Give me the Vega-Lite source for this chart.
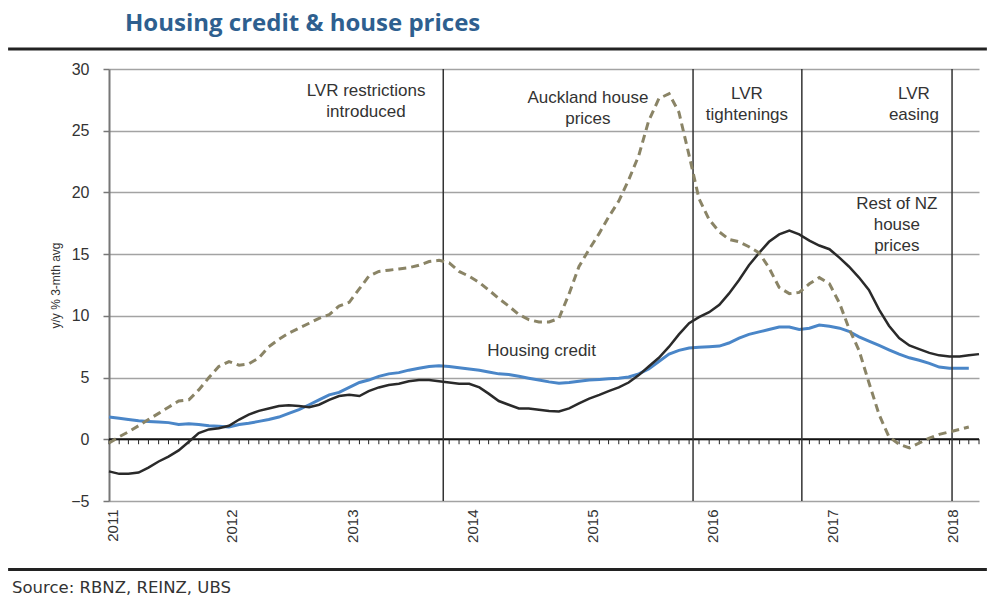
{
 "$schema": "https://vega.github.io/schema/vega-lite/v6.json",
 "width": 870, "height": 432,
 "autosize": {"type": "none"},
 "padding": {"left": 109, "top": 69, "right": 8, "bottom": 100},
 "background": "white",
 "config": {"view": {"stroke": null}, "font": "Liberation Sans"},
 "title": {"text": "Housing credit & house prices", "anchor": "start", "frame": "group", "dx": 16, "offset": 12, "font": "Open Sans", "fontSize": 24, "fontWeight": "bold", "color": "#2e5f8f"},
 "datasets": {
  "series": [
   {"d":"2011-01-01","credit":1.8,"rest":-2.6,"akl":-0.3},
   {"d":"2011-02-01","credit":1.7,"rest":-2.8,"akl":0.2},
   {"d":"2011-03-01","credit":1.6,"rest":-2.8,"akl":0.6},
   {"d":"2011-04-01","credit":1.5,"rest":-2.7,"akl":1.1},
   {"d":"2011-05-01","credit":1.45,"rest":-2.3,"akl":1.6},
   {"d":"2011-06-01","credit":1.4,"rest":-1.8,"akl":2.1},
   {"d":"2011-07-01","credit":1.35,"rest":-1.4,"akl":2.6},
   {"d":"2011-08-01","credit":1.2,"rest":-0.9,"akl":3.1},
   {"d":"2011-09-01","credit":1.25,"rest":-0.2,"akl":3.2},
   {"d":"2011-10-01","credit":1.2,"rest":0.5,"akl":4.0},
   {"d":"2011-11-01","credit":1.1,"rest":0.8,"akl":5.0},
   {"d":"2011-12-01","credit":1.05,"rest":0.9,"akl":5.9},
   {"d":"2012-01-01","credit":1.0,"rest":1.1,"akl":6.3},
   {"d":"2012-02-01","credit":1.2,"rest":1.6,"akl":6.0},
   {"d":"2012-03-01","credit":1.3,"rest":2.0,"akl":6.1},
   {"d":"2012-04-01","credit":1.45,"rest":2.3,"akl":6.6},
   {"d":"2012-05-01","credit":1.6,"rest":2.5,"akl":7.5},
   {"d":"2012-06-01","credit":1.8,"rest":2.7,"akl":8.1},
   {"d":"2012-07-01","credit":2.1,"rest":2.75,"akl":8.6},
   {"d":"2012-08-01","credit":2.4,"rest":2.7,"akl":9.0},
   {"d":"2012-09-01","credit":2.8,"rest":2.6,"akl":9.4},
   {"d":"2012-10-01","credit":3.2,"rest":2.8,"akl":9.8},
   {"d":"2012-11-01","credit":3.6,"rest":3.2,"akl":10.1},
   {"d":"2012-12-01","credit":3.8,"rest":3.5,"akl":10.8},
   {"d":"2013-01-01","credit":4.2,"rest":3.6,"akl":11.1},
   {"d":"2013-02-01","credit":4.6,"rest":3.5,"akl":12.2},
   {"d":"2013-03-01","credit":4.8,"rest":3.9,"akl":13.2},
   {"d":"2013-04-01","credit":5.1,"rest":4.2,"akl":13.6},
   {"d":"2013-05-01","credit":5.3,"rest":4.4,"akl":13.7},
   {"d":"2013-06-01","credit":5.4,"rest":4.5,"akl":13.8},
   {"d":"2013-07-01","credit":5.6,"rest":4.7,"akl":13.9},
   {"d":"2013-08-01","credit":5.75,"rest":4.8,"akl":14.1},
   {"d":"2013-09-01","credit":5.9,"rest":4.8,"akl":14.4},
   {"d":"2013-10-01","credit":5.95,"rest":4.7,"akl":14.5},
   {"d":"2013-11-01","credit":5.9,"rest":4.6,"akl":14.3},
   {"d":"2013-12-01","credit":5.8,"rest":4.5,"akl":13.6},
   {"d":"2014-01-01","credit":5.7,"rest":4.5,"akl":13.2},
   {"d":"2014-02-01","credit":5.6,"rest":4.2,"akl":12.7},
   {"d":"2014-03-01","credit":5.45,"rest":3.7,"akl":12.1},
   {"d":"2014-04-01","credit":5.3,"rest":3.1,"akl":11.4},
   {"d":"2014-05-01","credit":5.25,"rest":2.8,"akl":10.8},
   {"d":"2014-06-01","credit":5.1,"rest":2.5,"akl":10.1},
   {"d":"2014-07-01","credit":4.95,"rest":2.5,"akl":9.7},
   {"d":"2014-08-01","credit":4.8,"rest":2.4,"akl":9.5},
   {"d":"2014-09-01","credit":4.65,"rest":2.3,"akl":9.5},
   {"d":"2014-10-01","credit":4.55,"rest":2.25,"akl":9.8},
   {"d":"2014-11-01","credit":4.6,"rest":2.5,"akl":11.8},
   {"d":"2014-12-01","credit":4.7,"rest":2.9,"akl":14.0},
   {"d":"2015-01-01","credit":4.8,"rest":3.3,"akl":15.4},
   {"d":"2015-02-01","credit":4.85,"rest":3.6,"akl":16.7},
   {"d":"2015-03-01","credit":4.9,"rest":3.9,"akl":18.0},
   {"d":"2015-04-01","credit":4.95,"rest":4.2,"akl":19.3},
   {"d":"2015-05-01","credit":5.05,"rest":4.6,"akl":21.0},
   {"d":"2015-06-01","credit":5.3,"rest":5.2,"akl":23.0},
   {"d":"2015-07-01","credit":5.7,"rest":5.9,"akl":25.8},
   {"d":"2015-08-01","credit":6.3,"rest":6.6,"akl":27.6},
   {"d":"2015-09-01","credit":6.9,"rest":7.5,"akl":28.0},
   {"d":"2015-10-01","credit":7.2,"rest":8.5,"akl":26.5},
   {"d":"2015-11-01","credit":7.4,"rest":9.4,"akl":23.0},
   {"d":"2015-12-01","credit":7.45,"rest":9.9,"akl":19.5},
   {"d":"2016-01-01","credit":7.5,"rest":10.3,"akl":17.8},
   {"d":"2016-02-01","credit":7.55,"rest":10.9,"akl":16.8},
   {"d":"2016-03-01","credit":7.8,"rest":11.8,"akl":16.2},
   {"d":"2016-04-01","credit":8.2,"rest":12.9,"akl":16.0},
   {"d":"2016-05-01","credit":8.5,"rest":14.1,"akl":15.6},
   {"d":"2016-06-01","credit":8.7,"rest":15.1,"akl":15.1},
   {"d":"2016-07-01","credit":8.9,"rest":16.0,"akl":13.9},
   {"d":"2016-08-01","credit":9.1,"rest":16.6,"akl":12.3},
   {"d":"2016-09-01","credit":9.1,"rest":16.9,"akl":11.8},
   {"d":"2016-10-01","credit":8.9,"rest":16.6,"akl":11.9},
   {"d":"2016-11-01","credit":9.0,"rest":16.1,"akl":12.6},
   {"d":"2016-12-01","credit":9.25,"rest":15.7,"akl":13.1},
   {"d":"2017-01-01","credit":9.15,"rest":15.4,"akl":12.6},
   {"d":"2017-02-01","credit":9.0,"rest":14.7,"akl":11.0},
   {"d":"2017-03-01","credit":8.75,"rest":14.0,"akl":9.0},
   {"d":"2017-04-01","credit":8.3,"rest":13.1,"akl":7.2},
   {"d":"2017-05-01","credit":7.95,"rest":12.1,"akl":4.6},
   {"d":"2017-06-01","credit":7.6,"rest":10.5,"akl":2.0},
   {"d":"2017-07-01","credit":7.25,"rest":9.2,"akl":0.2},
   {"d":"2017-08-01","credit":6.9,"rest":8.2,"akl":-0.4},
   {"d":"2017-09-01","credit":6.6,"rest":7.6,"akl":-0.7},
   {"d":"2017-10-01","credit":6.4,"rest":7.3,"akl":-0.3},
   {"d":"2017-11-01","credit":6.15,"rest":7.0,"akl":0.1},
   {"d":"2017-12-01","credit":5.85,"rest":6.8,"akl":0.4},
   {"d":"2018-01-01","credit":5.75,"rest":6.7,"akl":0.6},
   {"d":"2018-02-01","credit":5.75,"rest":6.7,"akl":0.8},
   {"d":"2018-03-01","credit":5.75,"rest":6.8,"akl":1.0},
   {"d":"2018-04-01","credit":null,"rest":6.9,"akl":null}
  ],
  "events": [
   {"d":"2013-10-14","event":"LVR restrictions introduced"},
   {"d":"2015-11-13","event":"LVR tightening"},
   {"d":"2016-10-09","event":"LVR tightening"},
   {"d":"2018-01-09","event":"LVR easing"}
  ],
  "notes": [
   {"d":"2013-02-21","v":27.81,"label":"LVR restrictions\nintroduced"},
   {"d":"2014-12-28","v":27.25,"label":"Auckland house\nprices"},
   {"d":"2016-04-25","v":27.57,"label":"LVR\ntightenings"},
   {"d":"2017-09-15","v":27.57,"label":"LVR\neasing"},
   {"d":"2017-07-25","v":18.66,"label":"Rest of NZ\nhouse\nprices"},
   {"d":"2014-08-09","v":6.75,"label":"Housing credit"}
  ],
  "blank": [{}]
 },
 "layer": [
  {"data": {"name": "series"},
   "mark": {"type": "line", "color": "#4a86c8", "strokeWidth": 3},
   "encoding": {
    "x": {"field": "d", "type": "temporal",
     "scale": {"type": "utc", "domain": [{"year":2011,"month":1,"date":1,"utc":true},{"year":2018,"month":4,"date":1,"utc":true}]},
     "axis": {"values": [
       {"year":2011,"month":1,"date":1,"utc":true},{"year":2012,"month":1,"date":1,"utc":true},
       {"year":2013,"month":1,"date":1,"utc":true},{"year":2014,"month":1,"date":1,"utc":true},
       {"year":2015,"month":1,"date":1,"utc":true},{"year":2016,"month":1,"date":1,"utc":true},
       {"year":2017,"month":1,"date":1,"utc":true},{"year":2018,"month":1,"date":1,"utc":true}],
      "format": "%Y", "labelAngle": 270, "labelFontSize": 15, "labelColor": "#333", "labelFont": "Liberation Sans",
      "labelOffset": 3, "domain": false, "ticks": false, "grid": false, "labelPadding": 8, "title": null}},
    "y": {"field": "credit", "type": "quantitative",
     "scale": {"domain": [-5, 30], "nice": false, "zero": false},
     "axis": {"values": [-5,0,5,10,15,20,25,30], "grid": true, "gridColor": "#a3a3a3", "gridWidth": 1.5,
      "domain": true, "domainColor": "#777", "domainWidth": 2, "ticks": true, "tickColor": "#777", "tickSize": 6, "tickWidth": 1.5,
      "labelFontSize": 16, "labelColor": "#333", "labelFont": "Liberation Sans", "labelPadding": 14,
      "title": "y/y % 3-mth avg", "titleFontSize": 12, "titleFontWeight": "normal", "titleColor": "#333", "titleFont": "Liberation Sans", "titlePadding": 8}}}
  },
  {"data": {"name": "blank"},
   "mark": {"type": "rule", "color": "#111", "strokeWidth": 2},
   "encoding": {"y": {"datum": 0, "type": "quantitative"}}},
  {"data": {"name": "series"},
   "mark": {"type": "rule", "color": "#222", "strokeWidth": 1},
   "encoding": {"x": {"field": "d", "type": "temporal"}, "y": {"datum": 0, "type": "quantitative"}, "y2": {"datum": -0.4}}},
  {"data": {"name": "events"},
   "mark": {"type": "rule", "color": "#333", "strokeWidth": 1.5},
   "encoding": {"x": {"field": "d", "type": "temporal"}}},
  {"data": {"name": "series"},
   "mark": {"type": "line", "color": "#2a2a2a", "strokeWidth": 2.5},
   "encoding": {"x": {"field": "d", "type": "temporal"}, "y": {"field": "rest", "type": "quantitative"}}},
  {"data": {"name": "series"},
   "mark": {"type": "line", "color": "#8a8466", "strokeWidth": 3, "strokeDash": [8, 5]},
   "encoding": {"x": {"field": "d", "type": "temporal"}, "y": {"field": "akl", "type": "quantitative"}}},
  {"data": {"name": "notes"},
   "mark": {"type": "text", "fontSize": 17, "color": "#333", "font": "Liberation Sans", "align": "center", "baseline": "alphabetic", "lineBreak": "\n", "lineHeight": 21},
   "encoding": {"x": {"field": "d", "type": "temporal"}, "y": {"field": "v", "type": "quantitative"}, "text": {"field": "label"}}},
  {"data": {"name": "blank"},
   "mark": {"type": "rule", "color": "#222", "strokeWidth": 3, "clip": false},
   "encoding": {"x": {"datum": {"year":2010,"month":2,"date":28,"utc":true}, "type": "temporal"},
    "x2": {"datum": {"year":2018,"month":4,"date":25,"utc":true}},
    "y": {"datum": 31.62, "type": "quantitative"}}},
  {"data": {"name": "blank"},
   "mark": {"type": "rule", "color": "#222", "strokeWidth": 3, "clip": false},
   "encoding": {"x": {"datum": {"year":2010,"month":2,"date":28,"utc":true}, "type": "temporal"},
    "x2": {"datum": {"year":2018,"month":4,"date":25,"utc":true}},
    "y": {"datum": -10.55, "type": "quantitative"}}},
  {"data": {"name": "blank"},
   "mark": {"type": "text", "fontSize": 16.5, "color": "#333", "font": "DejaVu Sans", "align": "left", "baseline": "middle", "clip": false, "text": "Source: RBNZ, REINZ, UBS"},
   "encoding": {"x": {"datum": {"year":2010,"month":3,"date":12,"utc":true}, "type": "temporal"},
    "y": {"datum": -12.05, "type": "quantitative"}}}
 ]
}
